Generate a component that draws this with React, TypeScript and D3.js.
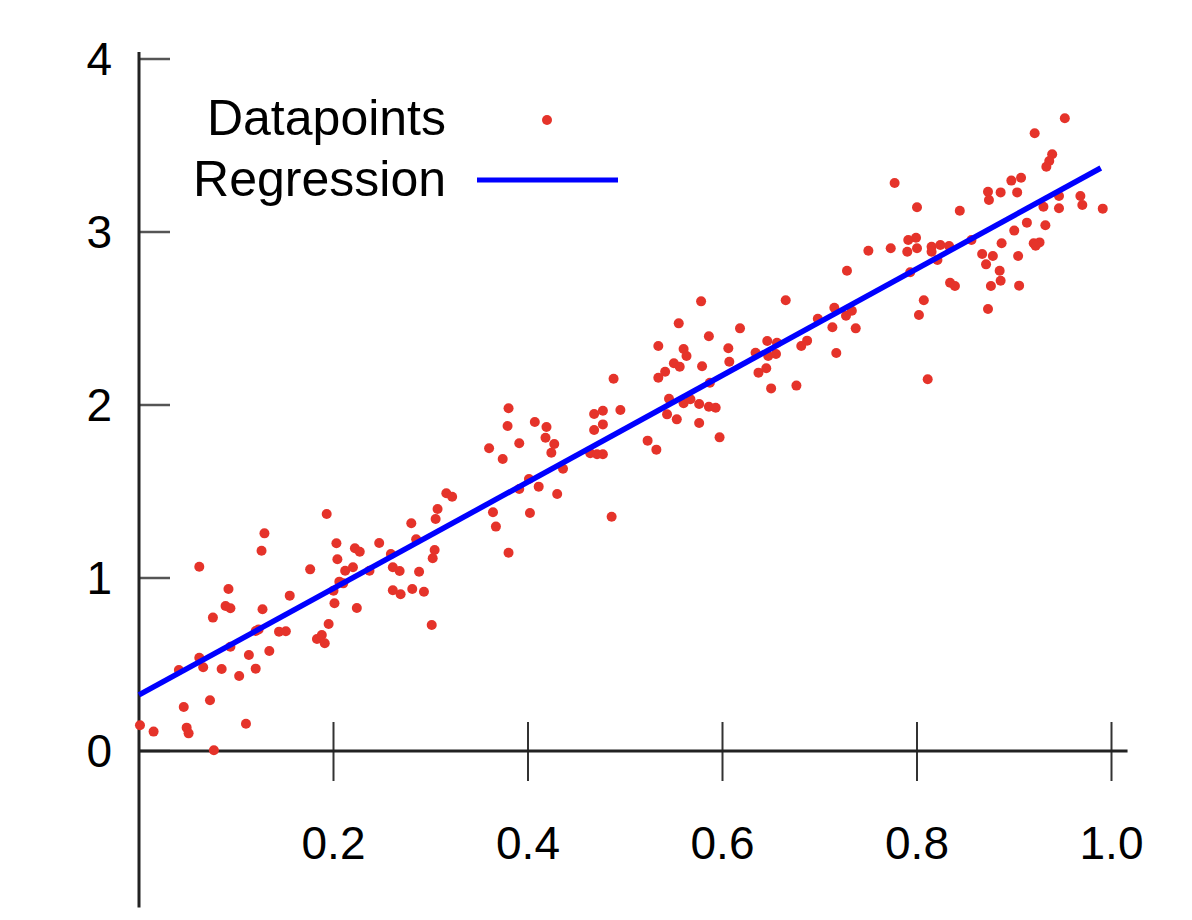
import React from "react";
import * as d3 from "d3";

// ---- data ----
const pointX = [
  0.193, 0.129, 0.126, 0.203, 0.204, 0.062, 0.176, 0.092, 0.089, 0.094, 0.155, 0.127, 0.201, 0.076, 0.120, 0.123,
  0.144, 0.151, 0.195, 0.183, 0.188, 0.191, 0.094, 0.113, 0.134, 0.062, 0.066, 0.041, 0.085, 0.103, 0.120, 0.046,
  0.073, 0.110, 0.001, 0.015, 0.049, 0.051, 0.077,
  0.380, 0.379, 0.360, 0.374, 0.316, 0.322, 0.307, 0.305, 0.364, 0.367, 0.380, 0.280, 0.285, 0.222, 0.227, 0.247,
  0.212, 0.220, 0.237, 0.259, 0.261, 0.268, 0.288, 0.304, 0.302, 0.206, 0.210, 0.200, 0.261, 0.269, 0.281, 0.293,
  0.224, 0.301,
  0.534, 0.534, 0.488, 0.407, 0.419, 0.418, 0.427, 0.424, 0.391, 0.468, 0.477, 0.495, 0.477, 0.468, 0.464, 0.471,
  0.477, 0.523, 0.532, 0.436, 0.401, 0.391, 0.411, 0.430, 0.402, 0.486,
  0.578, 0.665, 0.555, 0.618, 0.586, 0.560, 0.563, 0.606, 0.607, 0.550, 0.556, 0.579, 0.541, 0.634, 0.646, 0.656,
  0.647, 0.655, 0.681, 0.687, 0.637, 0.645, 0.587, 0.650, 0.676, 0.545, 0.560, 0.567, 0.576, 0.586, 0.593, 0.543,
  0.553, 0.576, 0.597,
  0.777, 0.800, 0.844, 0.791, 0.799, 0.800, 0.790, 0.773, 0.750, 0.815, 0.824, 0.833, 0.815, 0.821, 0.793, 0.728,
  0.834, 0.839, 0.807, 0.802, 0.715, 0.727, 0.733, 0.698, 0.713, 0.737, 0.717, 0.811,
  0.952, 0.921, 0.939, 0.936, 0.933, 0.897, 0.907, 0.873, 0.886, 0.903, 0.874, 0.946, 0.946, 0.968, 0.970, 0.991,
  0.930, 0.913, 0.932, 0.900, 0.887, 0.920, 0.926, 0.922, 0.856, 0.867, 0.878, 0.871, 0.904, 0.885, 0.886, 0.876,
  0.905, 0.873,
];
const pointY = [
  1.370, 1.258, 1.158, 1.201, 1.108, 1.065, 1.050, 0.936, 0.838, 0.825, 0.898, 0.819, 0.854, 0.771, 0.694, 0.703,
  0.690, 0.692, 0.734, 0.647, 0.671, 0.623, 0.603, 0.555, 0.578, 0.539, 0.484, 0.468, 0.474, 0.434, 0.476, 0.254,
  0.293, 0.158, 0.149, 0.112, 0.135, 0.102, 0.004,
  1.981, 1.879, 1.750, 1.688, 1.490, 1.470, 1.399, 1.341, 1.380, 1.297, 1.146, 1.316, 1.224, 1.172, 1.152, 1.202,
  1.042, 1.062, 1.042, 1.139, 1.062, 1.040, 1.036, 1.162, 1.114, 0.979, 0.969, 0.927, 0.929, 0.906, 0.936, 0.921,
  0.827, 0.728,
  2.341, 2.158, 2.152, 1.902, 1.873, 1.811, 1.775, 1.724, 1.779, 1.948, 1.967, 1.971, 1.888, 1.855, 1.721, 1.715,
  1.715, 1.794, 1.742, 1.632, 1.572, 1.514, 1.528, 1.486, 1.376, 1.354,
  2.599, 2.605, 2.472, 2.443, 2.397, 2.324, 2.283, 2.328, 2.250, 2.241, 2.221, 2.224, 2.192, 2.302, 2.370, 2.360,
  2.283, 2.295, 2.341, 2.372, 2.187, 2.212, 2.129, 2.096, 2.112, 2.036, 2.010, 2.033, 2.006, 1.990, 1.984, 1.946,
  1.917, 1.896, 1.813,
  3.283, 3.143, 3.123, 2.954, 2.967, 2.906, 2.886, 2.906, 2.892, 2.915, 2.925, 2.919, 2.886, 2.838, 2.767, 2.776,
  2.707, 2.688, 2.605, 2.520, 2.562, 2.516, 2.545, 2.499, 2.449, 2.443, 2.301, 2.149,
  3.657, 3.571, 3.449, 3.410, 3.377, 3.297, 3.314, 3.233, 3.229, 3.229, 3.185, 3.208, 3.137, 3.208, 3.156, 3.135,
  3.146, 3.054, 3.039, 3.008, 2.935, 2.935, 2.940, 2.921, 2.954, 2.873, 2.861, 2.813, 2.861, 2.776, 2.718, 2.688,
  2.690, 2.555,
];
const regressionIntercept = 0.324;
const regressionSlope = 3.08;
const regressionRange = [0, 0.989];

const xTickValues = [0.2, 0.4, 0.6, 0.8, 1.0];
const xTickLabels = ["0.2", "0.4", "0.6", "0.8", "1.0"];
const yTickValues = [0, 1, 2, 3, 4];
const yTickLabels = ["0", "1", "2", "3", "4"];
const legendLabels = ["Datapoints", "Regression"];

const W = 1192;
const H = 920;
const RED = "#e5332a";
const BLUE = "#0000ff";
const FONT = "'Liberation Sans', Arial, sans-serif";

export default function App() {
  const x = d3.scaleLinear().domain([0, 1]).range([139, 1111.5]);
  const y = d3.scaleLinear().domain([0, 4]).range([751, 59]);

  const points = pointX.map((px, i) => ({ x: px, y: pointY[i] }));
  const regLine = d3
    .line<number>()
    .x((d) => x(d))
    .y((d) => y(regressionIntercept + regressionSlope * d));

  const x0 = x(0);
  const y0 = y(0);

  return (
    <svg
      width={W}
      height={H}
      style={{ position: "absolute", left: 0, top: 0, background: "#fff" }}
      fontFamily={FONT}
    >
      <rect width={W} height={H} fill="#fff" />
      {/* y ticks */}
      {yTickValues.map((v) => (
        <line key={"yt" + v} x1={x0} x2={x0 + 31} y1={y(v)} y2={y(v)} stroke="#555" strokeWidth={2.5} />
      ))}
      {/* x ticks */}
      {xTickValues.map((v) => (
        <line key={"xt" + v} x1={x(v)} x2={x(v)} y1={y0 - 29} y2={y0 + 30} stroke="#333" strokeWidth={2} />
      ))}
      {/* axes */}
      <line x1={x0} x2={x(1.0165)} y1={y0} y2={y0} stroke="#222" strokeWidth={3} />
      <line x1={x0} x2={x0} y1={y(4.04)} y2={y(-0.905)} stroke="#222" strokeWidth={3} />
      {/* y tick labels */}
      {yTickValues.map((v, i) => (
        <text key={"yl" + v} x={x0 - 27} y={y(v) + 16} fontSize={46} textAnchor="end" fill="#000">
          {yTickLabels[i]}
        </text>
      ))}
      {/* x tick labels */}
      {xTickValues.map((v, i) => (
        <text key={"xl" + v} x={x(v)} y={y0 + 108} fontSize={46} textAnchor="middle" fill="#000">
          {xTickLabels[i]}
        </text>
      ))}
      {/* points */}
      {points.map((p, i) => (
        <circle key={"p" + i} cx={x(p.x)} cy={y(p.y)} r={5} fill={RED} />
      ))}
      {/* regression */}
      <path d={regLine(regressionRange) || ""} fill="none" stroke={BLUE} strokeWidth={5.5} />
      {/* legend */}
      <text x={446} y={135} fontSize={50} textAnchor="end" fill="#000">
        {legendLabels[0]}
      </text>
      <circle cx={547} cy={120} r={5} fill={RED} />
      <text x={446} y={196} fontSize={50} textAnchor="end" fill="#000">
        {legendLabels[1]}
      </text>
      <line x1={477} x2={618} y1={180} y2={180} stroke={BLUE} strokeWidth={5} />
    </svg>
  );
}
